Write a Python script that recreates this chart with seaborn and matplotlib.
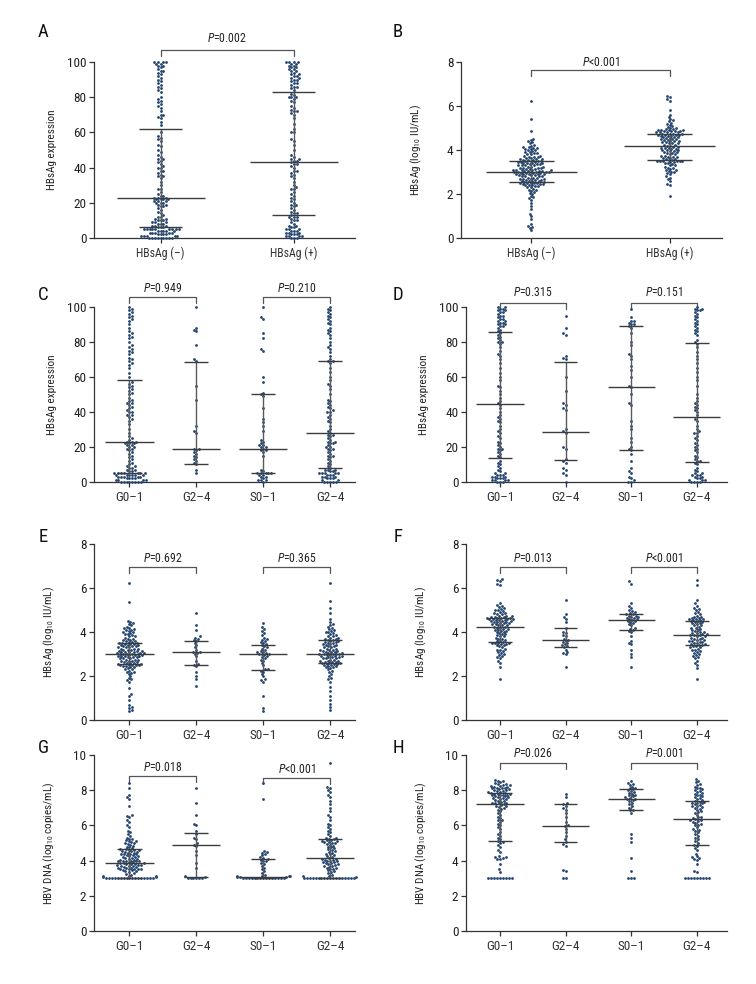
import numpy as np
import pandas as pd
import seaborn as sns
import matplotlib.pyplot as plt

sns.set_style("ticks")
plt.rcParams["font.family"] = ["Roboto Condensed", "DejaVu Sans"]
plt.rcParams["mathtext.fontset"] = "custom"
plt.rcParams["mathtext.rm"] = "Roboto Condensed"
plt.rcParams["mathtext.it"] = "Roboto Condensed:italic"

# ---- data ----
# A: HBsAg expression by serum HBsAg status
a_neg = [0,0,0,0,0,0,0,0,0,1,1,1,1,1,2,2,2,2,3,3,3,3,3,4,4,4,4,4,5,5,5,5,5,5,5,5,5,
         6,6,6,7,7,7,8,8,8,9,9,9,10,10,10,11,11,12,12,13,14,15,16,17,18,18,19,19,20,20,20,21,21,21,22,22,22,22,
         23,23,23,24,24,25,26,28,28,30,32,34,35,35,36,37,38,38,40,40,41,42,43,44,45,45,46,47,49,50,52,53,55,56,57,58,60,
         64,66,68,69,70,70,72,74,75,76,77,78,79,80,83,84,85,86,87,88,89,90,91,92,93,94,95,95,96,97,98,98,99,99,100,100,100,100]
a_pos = [0,0,0,1,1,1,1,2,2,2,3,3,3,4,4,4,5,5,5,6,6,7,7,8,9,10,10,11,12,12,12,
         13,14,14,15,16,17,18,19,19,20,21,22,23,24,25,26,28,28,29,30,32,34,35,36,37,38,38,40,41,42,42,
         43,44,44,45,45,46,47,50,53,55,56,60,60,62,65,68,70,71,72,72,73,74,75,77,78,79,80,80,80,81,82,
         84,85,86,86,87,88,88,89,90,90,91,91,92,92,93,93,94,95,95,96,96,97,97,98,98,99,99,100,100,100,100]

# B: HBsAg (log10 IU/mL)
b_neg = [0.35,0.45,0.5,0.55,0.65,0.85,1.0,1.1,1.3,1.45,1.6,1.75,1.8,1.85,1.9,2.0,2.05,2.1,2.15,2.2,2.2,2.25,2.3,2.3,2.35,2.35,
         2.4,2.4,2.4,2.45,2.45,2.45,2.5,2.5,2.5,2.5,2.5,
         2.55,2.55,2.6,2.6,2.6,2.6,2.65,2.65,2.65,2.7,2.7,2.7,2.7,2.75,2.75,2.75,2.8,2.8,2.8,2.8,2.85,2.85,2.85,
         2.9,2.9,2.9,2.9,2.9,2.95,2.95,2.95,2.95,3.0,3.0,3.0,3.0,3.0,3.0,
         3.05,3.05,3.05,3.05,3.1,3.1,3.1,3.1,3.1,3.15,3.15,3.15,3.2,3.2,3.2,3.2,3.25,3.25,3.25,3.3,3.3,3.3,3.3,
         3.35,3.35,3.35,3.4,3.4,3.4,3.4,3.45,3.45,3.45,3.5,3.5,3.5,3.5,
         3.55,3.55,3.55,3.6,3.6,3.6,3.65,3.65,3.7,3.7,3.7,3.75,3.75,3.8,3.8,3.85,3.85,3.9,3.9,3.95,4.0,4.0,
         4.05,4.05,4.1,4.1,4.15,4.15,4.2,4.25,4.3,4.35,4.4,4.45,4.5,4.85,5.4,6.25]
b_pos = [1.9,2.4,2.45,2.6,2.7,2.75,2.8,2.9,2.95,3.0,3.0,3.05,3.1,3.1,3.15,3.2,3.2,3.25,3.3,3.3,3.35,3.4,3.4,3.45,3.45,
         3.5,3.5,3.5,3.5,3.5,3.5,
         3.55,3.55,3.6,3.6,3.65,3.65,3.7,3.7,3.7,3.75,3.75,3.8,3.8,3.85,3.85,3.9,3.9,3.95,3.95,4.0,4.0,4.0,
         4.05,4.05,4.1,4.1,4.1,4.15,4.15,4.2,4.2,
         4.25,4.25,4.3,4.3,4.3,4.35,4.35,4.4,4.4,4.4,4.45,4.45,4.5,4.5,4.5,4.55,4.55,4.6,4.6,4.6,4.65,4.65,4.65,
         4.7,4.7,4.7,4.7,4.75,4.75,4.75,4.75,
         4.8,4.8,4.8,4.8,4.85,4.85,4.85,4.85,4.9,4.9,4.9,4.9,4.95,4.95,5.0,5.0,5.05,5.1,5.15,5.2,5.25,5.3,5.35,
         5.4,5.5,5.6,5.8,6.25,6.3,6.4,6.45]

# C: HBsAg expression, HBsAg(-) by grade / stage
c_g01 = [0,0,0,0,0,0,0,0,1,1,1,1,2,2,2,2,3,3,3,3,3,4,4,4,4,4,4,5,5,5,5,
         5,5,5,6,6,7,7,8,8,9,9,10,11,12,13,14,15,16,17,18,19,19,20,20,21,21,22,22,22,23,23,
         23,24,25,26,28,30,33,35,36,37,38,38,40,40,41,42,43,44,45,45,46,47,48,50,51,52,53,54,55,56,57,
         60,62,65,67,68,69,70,71,73,74,75,76,77,78,80,82,83,84,85,86,88,90,92,93,94,95,96,97,98,99,100]
c_g24 = [5,7,10,11,12,13,14,15,16,17,18,19,19,28,29,32,47,55,69,70,78,86,87,88,100]
c_s01 = [0,1,1,1,2,3,3,4,4,5,5,5,5,5,6,7,15,17,18,18,19,20,20,21,21,22,23,24,29,32,34,36,42,
         49,50,51,57,60,75,76,82,85,93,94,100]
c_s24 = [0,0,0,0,0,1,1,2,2,2,3,3,3,4,4,4,5,5,5,5,5,6,6,7,7,7,
         8,9,10,11,12,13,14,15,15,16,17,18,19,19,20,20,21,22,22,23,23,24,25,26,27,27,
         28,29,30,32,34,35,36,37,38,40,40,41,42,43,44,45,46,47,50,53,55,56,58,60,63,65,68,
         69,69,70,72,74,76,77,78,80,82,84,85,86,87,88,90,91,92,93,94,95,96,97,98,99,100]

# D: HBsAg expression, HBsAg(+) by grade / stage
d_g01 = [0,0,0,1,1,1,1,2,2,2,3,3,3,4,4,4,5,5,6,7,8,9,10,11,12,
         14,15,16,17,18,19,19,20,21,22,23,25,26,28,29,30,32,34,35,36,37,38,40,42,44,
         45,46,48,50,52,54,55,58,60,62,65,68,70,72,73,75,77,79,80,80,81,82,83,84,85,
         86,87,88,89,89,90,90,91,91,92,92,93,93,94,95,95,96,97,97,98,98,99,99,100,100]
d_g24 = [0,4,5,7,8,11,12,13,19,20,28,29,30,41,42,44,45,52,60,70,71,72,84,85,88,95]
d_s01 = [0,0,1,2,3,5,6,8,12,16,18,19,20,23,25,30,32,35,44,45,50,54,55,60,64,66,70,72,73,78,
         80,85,88,89,90,90,91,92,92,94,99]
d_s24 = [0,0,0,0,1,1,1,2,2,3,3,4,4,4,5,5,6,7,8,10,11,
         12,12,13,14,15,17,18,19,20,21,22,24,25,26,28,28,29,30,32,35,36,
         38,40,41,42,43,44,45,46,48,50,55,58,60,63,65,68,70,72,74,77,79,
         80,81,84,85,86,87,88,89,90,91,92,93,94,95,96,97,98,98,99,99,100]

# E: HBsAg (log10 IU/mL), HBsAg(-) by grade / stage
e_g01 = [0.4,0.45,0.55,0.6,0.7,0.9,1.1,1.2,1.45,1.75,1.8,1.85,1.9,2.0,2.1,2.15,2.2,2.2,2.25,2.3,2.3,2.35,
         2.4,2.4,2.45,2.45,2.5,2.5,2.5,2.5,2.5,
         2.55,2.55,2.6,2.6,2.6,2.65,2.65,2.7,2.7,2.7,2.75,2.75,2.75,2.8,2.8,2.8,2.85,2.85,2.85,
         2.9,2.9,2.9,2.9,2.95,2.95,2.95,3.0,3.0,3.0,3.0,3.0,
         3.05,3.05,3.05,3.1,3.1,3.1,3.1,3.15,3.15,3.15,3.2,3.2,3.2,3.25,3.25,3.25,3.3,3.3,3.3,
         3.35,3.35,3.35,3.4,3.4,3.4,3.45,3.45,3.45,3.5,3.5,3.5,
         3.55,3.55,3.6,3.6,3.65,3.65,3.7,3.7,3.75,3.8,3.8,3.85,3.9,3.9,3.95,4.0,4.0,4.05,4.1,4.1,
         4.15,4.2,4.2,4.25,4.3,4.35,4.4,4.45,4.5,5.35,6.25]
e_g24 = [1.55,1.85,2.0,2.2,2.45,2.5,2.55,2.7,2.9,3.0,3.05,3.07,3.1,3.2,3.3,3.4,3.5,3.6,3.65,3.7,
         3.75,3.8,4.1,4.3,4.85]
e_s01 = [0.4,0.55,1.1,1.75,1.8,1.85,2.0,2.1,2.2,2.25,2.3,2.3,2.5,2.6,2.7,2.75,2.8,2.85,2.9,2.95,
         3.0,3.0,3.0,3.05,3.1,3.1,3.15,3.2,3.25,3.3,3.35,3.4,3.45,3.5,3.55,3.6,3.65,3.7,3.75,3.85,
         3.95,4.05,4.15,4.25,4.4]
e_s24 = [0.45,0.6,0.75,0.9,1.1,1.3,1.5,1.75,1.85,1.9,2.0,2.1,2.2,2.25,2.3,2.35,2.4,2.4,2.45,2.45,
         2.5,2.5,2.55,2.55,2.55,2.6,
         2.6,2.6,2.65,2.65,2.65,2.7,2.7,2.7,2.75,2.75,2.8,2.8,2.8,2.85,2.85,2.85,2.9,2.9,2.9,2.95,2.95,
         3.0,3.0,3.0,3.0,3.0,
         3.05,3.05,3.1,3.1,3.1,3.15,3.15,3.2,3.2,3.2,3.25,3.25,3.3,3.3,3.35,3.35,3.4,3.4,3.45,3.45,
         3.5,3.5,3.55,3.55,3.6,3.6,
         3.65,3.65,3.7,3.7,3.75,3.75,3.8,3.8,3.85,3.9,3.95,4.0,4.0,4.05,4.1,4.15,4.2,4.25,4.3,4.35,
         4.45,4.6,4.85,5.1,5.4,6.25]

# F: HBsAg (log10 IU/mL), HBsAg(+) by grade / stage
f_g01 = [1.85,2.4,2.6,2.7,2.8,2.85,2.9,2.95,3.0,3.05,3.1,3.15,3.2,3.2,3.25,3.3,3.35,3.4,3.4,3.45,
         3.45,3.5,3.5,3.5,3.5,
         3.55,3.6,3.6,3.65,3.7,3.7,3.75,3.8,3.8,3.85,3.9,3.9,3.95,4.0,4.0,4.05,4.05,4.1,4.1,4.15,
         4.15,4.2,4.2,4.25,4.25,
         4.3,4.3,4.3,4.35,4.35,4.4,4.4,4.4,4.45,4.45,4.45,4.5,4.5,4.5,4.55,4.55,4.55,4.6,4.6,4.6,
         4.6,4.65,4.65,4.65,4.65,
         4.7,4.7,4.7,4.75,4.75,4.75,4.8,4.8,4.85,4.85,4.9,4.95,5.0,5.0,5.05,5.1,5.15,5.2,5.25,5.3,
         6.15,6.2,6.3,6.35,6.4]
f_g24 = [2.4,3.0,3.05,3.1,3.2,3.3,3.35,3.4,3.45,3.5,3.55,3.6,3.65,3.7,3.8,3.85,3.95,4.0,4.2,4.45,
         4.6,4.7,4.8,5.45]
f_s01 = [2.4,2.85,3.0,3.2,3.45,3.5,3.6,3.8,4.0,4.05,4.1,4.15,4.2,4.3,4.35,4.4,4.45,4.5,4.5,4.55,
         4.6,4.6,4.65,4.65,4.7,4.7,4.75,4.75,4.8,4.8,4.85,4.9,4.95,5.0,5.1,5.2,5.3,6.2,6.3]
f_s24 = [1.85,2.35,2.5,2.6,2.7,2.8,2.85,2.9,2.95,3.0,3.05,3.1,3.15,3.2,3.2,3.25,3.3,3.3,3.35,3.35,3.4,
         3.4,3.45,3.45,3.5,3.5,3.55,3.55,3.6,3.6,3.65,3.65,3.7,3.7,3.75,3.75,3.8,3.8,3.85,3.85,3.85,3.9,
         3.9,3.95,3.95,4.0,4.0,4.05,4.1,4.1,4.15,4.2,4.2,4.25,4.3,4.3,4.35,4.4,4.4,4.45,4.45,4.5,4.5,
         4.55,4.55,4.6,4.6,4.6,4.65,4.65,4.7,4.7,4.75,4.8,4.85,4.9,5.0,5.05,5.1,5.2,5.3,5.45,6.15,6.35]

# G: HBV DNA (log10 copies/mL), HBsAg(-) by grade / stage
g_g01 = [3.0,3.0,3.0,3.0,3.0,3.0,3.0,3.0,3.0,3.0,3.0,3.0,3.0,3.0,3.0,3.0,3.0,
         3.05,3.05,3.1,3.1,3.15,3.2,3.25,3.3,
         3.35,3.4,3.4,3.45,3.45,3.5,3.5,3.5,3.55,3.55,3.6,3.6,3.6,3.65,3.65,3.7,3.7,3.7,3.75,3.75,
         3.75,3.8,3.8,3.8,3.85,3.85,3.85,3.9,3.9,3.95,3.95,3.95,
         4.0,4.0,4.0,4.05,4.05,4.1,4.1,4.15,4.15,4.2,4.2,4.25,4.25,4.3,4.3,4.35,4.35,4.4,4.4,4.45,
         4.45,4.5,4.5,4.55,4.55,4.6,4.6,4.6,4.65,4.65,4.7,
         4.75,4.8,4.85,4.9,4.95,5.0,5.0,5.05,5.1,5.1,5.15,5.2,5.25,5.3,5.4,5.5,5.6,5.7,5.9,6.0,
         6.2,6.3,6.5,6.55,6.6,7.1,7.5,7.6,7.7,8.1,8.4]
g_g24 = [3.0,3.0,3.0,3.0,3.0,3.0,3.05,3.1,3.6,3.85,4.3,4.55,4.85,4.9,5.0,5.2,5.3,5.5,5.7,6.0,
         6.1,6.6,7.3,8.15]
g_s01 = [3.0,3.0,3.0,3.0,3.0,3.0,3.0,3.0,3.0,3.0,3.0,3.0,3.0,3.0,3.0,
         3.05,3.05,3.05,3.1,3.1,3.1,3.15,3.2,
         3.3,3.4,3.5,3.6,3.7,3.8,3.85,3.95,4.0,4.05,4.1,4.15,4.2,4.3,4.4,4.45,4.5,4.55,7.5,8.4]
g_s24 = [3.0,3.0,3.0,3.0,3.0,3.0,3.0,3.0,3.0,3.0,3.0,3.0,3.0,3.0,3.0,3.0,3.0,3.0,
         3.05,3.1,3.15,
         3.2,3.3,3.35,3.4,3.45,3.5,3.55,3.6,3.6,3.65,3.7,3.7,3.75,3.8,3.8,3.85,3.85,3.9,3.9,3.95,
         4.0,4.0,4.05,4.05,4.1,4.1,
         4.15,4.2,4.25,4.3,4.35,4.4,4.45,4.5,4.55,4.6,4.65,4.7,4.75,4.8,4.85,4.9,4.95,5.0,5.0,5.05,
         5.05,5.1,5.1,5.15,5.15,5.2,
         5.25,5.3,5.3,5.4,5.5,5.6,5.7,5.8,5.9,6.0,6.1,6.3,6.5,6.6,6.8,7.0,7.2,7.4,7.6,7.7,7.9,
         8.0,8.15,8.2,9.55]

# H: HBV DNA (log10 copies/mL), HBsAg(+) by grade / stage
h_g01 = [3.0,3.0,3.0,3.0,3.0,3.0,3.0,3.0,3.0,3.35,3.5,3.8,4.1,4.1,4.15,4.2,4.2,4.25,4.5,4.6,4.8,
         4.9,5.0,5.05,5.1,
         5.2,5.3,5.4,5.5,5.6,5.8,5.9,6.0,6.1,6.2,6.3,6.3,6.4,6.5,6.6,6.7,6.8,6.9,6.95,7.0,7.05,
         7.1,7.1,7.15,7.2,
         7.25,7.25,7.3,7.3,7.35,7.4,7.4,7.45,7.5,7.5,7.55,7.55,7.6,7.6,7.65,7.65,7.7,7.7,7.75,7.75,
         7.8,7.8,7.8,7.85,7.85,
         7.9,7.9,7.95,7.95,8.0,8.0,8.05,8.05,8.1,8.1,8.15,8.15,8.2,8.2,8.25,8.25,8.3,8.3,8.35,8.35,
         8.4,8.45,8.5,8.55,8.6]
h_g24 = [3.0,3.0,3.4,3.45,4.85,4.95,5.05,5.2,5.4,5.6,5.8,5.95,6.0,6.2,6.5,6.7,6.9,7.0,7.1,7.2,
         7.25,7.6,7.8]
h_s01 = [3.0,3.0,3.0,3.4,4.15,5.05,5.3,5.5,6.7,6.85,6.9,7.0,7.1,7.2,7.3,7.4,7.45,7.5,7.5,7.55,
         7.6,7.65,7.7,7.75,7.8,7.85,7.9,7.95,8.0,8.05,8.1,8.15,8.2,8.3,8.35,8.4,8.5]
h_s24 = [3.0,3.0,3.0,3.0,3.0,3.0,3.0,3.0,3.0,3.35,3.4,3.8,4.05,4.1,4.15,4.2,4.25,4.4,4.6,4.7,4.85,
         4.9,5.0,5.1,5.2,5.3,5.4,5.5,5.6,5.7,5.75,5.8,5.9,6.0,6.05,6.1,6.15,6.2,6.25,6.3,6.3,6.35,
         6.4,6.45,6.5,6.6,6.7,6.75,6.8,6.9,6.95,7.0,7.05,7.1,7.1,7.15,7.2,7.25,7.3,7.3,7.35,7.35,7.4,
         7.45,7.5,7.55,7.6,7.65,7.7,7.75,7.8,7.85,7.9,7.95,8.0,8.05,8.1,8.15,8.2,8.3,8.35,8.45,8.55,8.65]

# median and interquartile range lines as drawn (q1, median, q3)
a_stats = [(6, 23, 62), (13, 43, 83)]
b_stats = [(2.55, 3.0, 3.5), (3.55, 4.2, 4.75)]
c_stats = [(5, 23, 58), (10, 19, 68.5), (5, 19, 50), (8, 28, 69)]
d_stats = [(13.5, 44.5, 85.5), (12.5, 28.5, 68.5), (18, 54, 89), (11.5, 37, 79.5)]
e_stats = [(2.55, 3.0, 3.5), (2.5, 3.07, 3.6), (2.27, 3.0, 3.42), (2.6, 3.0, 3.62)]
f_stats = [(3.55, 4.25, 4.65), (3.3, 3.65, 4.18), (4.08, 4.55, 4.82), (3.4, 3.87, 4.52)]
g_stats = [(3.0, 3.85, 4.65), (3.05, 4.88, 5.55), (3.0, 3.08, 4.08), (3.0, 4.12, 5.22)]
h_stats = [(5.1, 7.2, 7.85), (5.05, 5.95, 7.2), (6.85, 7.52, 8.05), (4.88, 6.35, 7.38)]

two_labels = ["HBsAg (\u2013)", "HBsAg (+)"]
four_labels = ["G0\u20131", "G2\u20134", "S0\u20131", "G2\u20134"]

DOT = "#23446e"
LINE = "#3c3c3c"
W, H = 756, 984


def panel(rect, letter, letter_xy, groups, labels, stats, pvals, brackets,
          ymax, ystep, ylabel, xlim, xfs):
    ax = fig.add_axes(rect)
    keys = [f"k{i}" for i in range(len(groups))]
    df = pd.DataFrame({"grp": np.repeat(keys, [len(g) for g in groups]),
                       "val": np.concatenate([np.asarray(g, float) for g in groups])})
    sns.swarmplot(data=df, x="grp", y="val", order=keys, ax=ax, color=DOT,
                  size=2.0, linewidth=0, warn_thresh=1.0)
    for col in ax.collections:
        col.set_clip_on(False)

    two = len(groups) == 2
    mw, qw = (0.33, 0.16) if two else (0.36, 0.18)
    for i, (q1, med, q3) in enumerate(stats):
        ax.vlines(i, q1, q3, color="#5a5a5a", lw=1.0, zorder=3)
        ax.hlines([q1, q3], i - qw, i + qw, color=LINE, lw=1.0, zorder=3)
        ax.hlines(med, i - mw, i + mw, color=LINE, lw=1.0, zorder=3)

    tr = ax.get_xaxis_transform()
    for (i, j, yb, yt), ptxt in zip(brackets, pvals):
        ax.plot([i, i, j, j], [yb - 0.034, yb, yb, yb - 0.034], color="#555555",
                lw=0.9, transform=tr, clip_on=False)
        ax.text((i + j) / 2, yt, r"$\it{P}$" + ptxt, transform=tr, ha="center",
                va="center", fontsize=8.5, color="#222222")

    ax.set_xlim(*xlim)
    ax.set_ylim(0, ymax)
    ax.set_yticks(np.arange(0, ymax + 0.01, ystep))
    ax.set_xticks(range(len(groups)))
    ax.set_xticklabels(labels, fontsize=xfs, color="#222222")
    ax.tick_params(axis="y", labelsize=9.5, length=3.5, width=0.9, colors="#333333",
                   labelcolor="#222222", pad=2)
    ax.tick_params(axis="x", length=3.5, width=0.9, colors="#333333", pad=3)
    ax.set_xlabel("")
    ax.set_ylabel(ylabel, fontsize=8, color="#222222")
    ax.yaxis.set_label_coords(-0.14, 0.5)
    sns.despine(ax=ax)
    for s in ("left", "bottom"):
        ax.spines[s].set_color("#333333")
        ax.spines[s].set_linewidth(0.9)
    fig.text(letter_xy[0] / W, 1 - letter_xy[1] / H, letter, fontsize=13.5,
             ha="center", va="center", color="#111111")
    return ax


def rect(x0, top, bottom):
    return [x0 / W, 1 - bottom / H, 261 / W, (bottom - top) / H]


fig = plt.figure(figsize=(W / 100, H / 100), dpi=100)

expr = "HBsAg expression"
hbs = r"HBsAg (log$_{10}$ IU/mL)"
dna = r"HBV DNA (log$_{10}$ copies/mL)"
xl_left = (-0.53, 3.37)
xl_right = (-0.52, 3.46)

panel(rect(94, 62, 238), "A", (43, 32), [a_neg, a_pos], two_labels, a_stats,
      ["=0.002"], [(0, 1, 1.068, 1.136)], 100, 20, expr, (-0.5, 1.46), 8.5)
panel(rect(461, 62, 238), "B", (398, 32), [b_neg, b_pos], two_labels, b_stats,
      ["<0.001"], [(0, 1, 0.955, 1.0)], 8, 2, hbs, (-0.51, 1.38), 8.5)
panel(rect(94, 307, 482), "C", (43, 295), [c_g01, c_g24, c_s01, c_s24], four_labels, c_stats,
      ["=0.949", "=0.210"], [(0, 1, 1.057, 1.103), (2, 3, 1.057, 1.103)], 100, 20, expr, xl_left, 9.5)
panel(rect(466, 307, 482), "D", (398, 295), [d_g01, d_g24, d_s01, d_s24], four_labels, d_stats,
      ["=0.315", "=0.151"], [(0, 1, 1.023, 1.08), (2, 3, 1.023, 1.08)], 100, 20, expr, xl_right, 9.5)
panel(rect(94, 544, 720), "E", (43, 537), [e_g01, e_g24, e_s01, e_s24], four_labels, e_stats,
      ["=0.692", "=0.365"], [(0, 1, 0.869, 0.92), (2, 3, 0.869, 0.92)], 8, 2, hbs, xl_left, 9.5)
panel(rect(466, 544, 720), "F", (398, 537), [f_g01, f_g24, f_s01, f_s24], four_labels, f_stats,
      ["=0.013", "<0.001"], [(0, 1, 0.869, 0.92), (2, 3, 0.869, 0.92)], 8, 2, hbs, xl_right, 9.5)
panel(rect(94, 755, 931), "G", (43, 748), [g_g01, g_g24, g_s01, g_s24], four_labels, g_stats,
      ["=0.018", "<0.001"], [(0, 1, 0.88, 0.93), (2, 3, 0.87, 0.915)], 10, 2, dna, xl_left, 9.5)
panel(rect(466, 755, 931), "H", (398, 748), [h_g01, h_g24, h_s01, h_s24], four_labels, h_stats,
      ["=0.026", "=0.001"], [(0, 1, 0.955, 1.006), (2, 3, 0.955, 1.006)], 10, 2, dna, xl_right, 9.5)

fig.savefig("out.png", dpi=100)
